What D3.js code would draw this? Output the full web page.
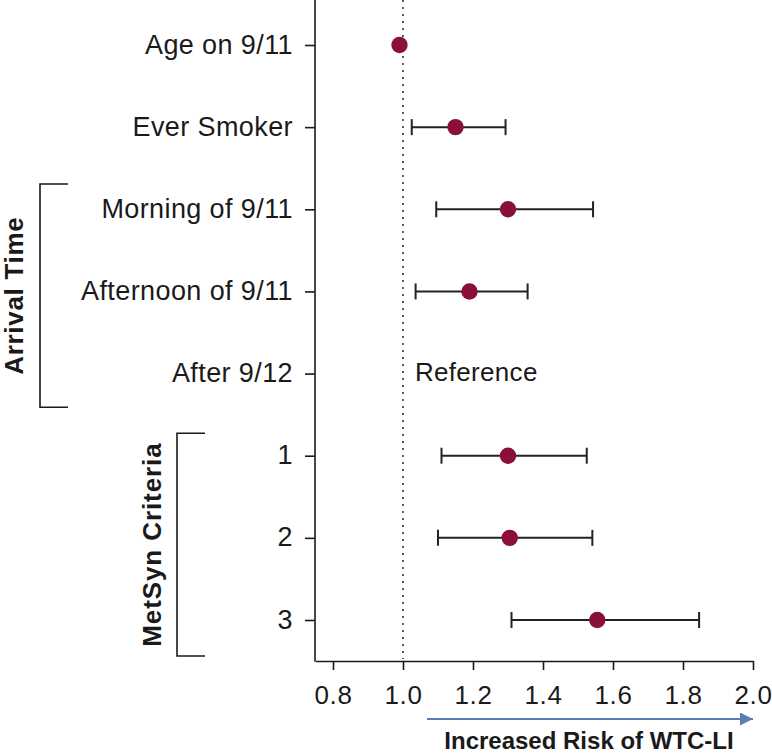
<!DOCTYPE html>
<html><head><meta charset="utf-8">
<script src="https://cdn.jsdelivr.net/npm/d3@7/dist/d3.min.js"></script>
<style>body{margin:0;background:#fff}svg{display:block}text{font-family:"Liberation Sans",Arial,sans-serif;fill:#1a1a1a}</style>
</head><body>
<svg id="c" width="772" height="755"></svg>
<script>
const categories = ["Age on 9/11","Ever Smoker","Morning of 9/11","Afternoon of 9/11","After 9/12","1","2","3"];
const estimates = [0.99, 1.15, 1.30, 1.19, null, 1.30, 1.305, 1.555];
const lower = [null, 1.025, 1.095, 1.036, null, 1.11, 1.10, 1.31];
const upper = [null, 1.293, 1.543, 1.356, null, 1.525, 1.541, 1.846];
const xTicks = [0.8, 1.0, 1.2, 1.4, 1.6, 1.8, 2.0];
const referenceLabel = "Reference";
const groups = [{label:"Arrival Time", from:"Morning of 9/11", to:"After 9/12"},
                {label:"MetSyn Criteria", from:"1", to:"3"}];
const axisTitle = "Increased Risk of WTC-LI";

const svg = d3.select("#c");
const x = d3.scaleLinear().domain([0.75, 2.0]).range([315.5, 753]);
const y = d3.scalePoint().domain(categories).range([45, 620]);
const axisY = 661, axisX = 315;

// dotted reference line
svg.append("line").attr("x1", x(1)).attr("x2", x(1)).attr("y1", 0).attr("y2", axisY - 2)
  .attr("stroke", "#333").attr("stroke-width", 1.6).attr("stroke-dasharray", "2,5");

// x axis
const gx = svg.append("g").attr("transform", `translate(0,${axisY})`)
  .call(d3.axisBottom(x).tickValues(xTicks).tickFormat(d3.format(".1f")).tickSize(9).tickSizeOuter(0).tickPadding(16));
gx.select(".domain").attr("stroke", "#1a1a1a").attr("stroke-width", 1.6);
gx.selectAll(".tick line").attr("stroke", "#1a1a1a").attr("stroke-width", 1.6);
gx.selectAll(".tick text").attr("font-size", 26).attr("letter-spacing", "0.6px")
  .style("font-family", '"Liberation Sans",Arial,sans-serif').attr("fill", "#1a1a1a");

// y axis
const gy = svg.append("g").attr("transform", `translate(${axisX},0)`)
  .call(d3.axisLeft(y).tickSize(10).tickPadding(12));
gy.select(".domain").remove();
gy.selectAll(".tick line").attr("stroke", "#1a1a1a").attr("stroke-width", 1.6);
gy.selectAll(".tick text").attr("font-size", 27).attr("letter-spacing", "0.4px").attr("dy", "0.3em")
  .style("font-family", '"Liberation Sans",Arial,sans-serif').attr("fill", "#1a1a1a");
svg.append("line").attr("x1", axisX).attr("x2", axisX).attr("y1", 0).attr("y2", axisY + 0.8)
  .attr("stroke", "#1a1a1a").attr("stroke-width", 1.6);

// error bars
const data = categories.map((c, i) => ({c, est: estimates[i], lo: lower[i], hi: upper[i]}));
const ci = data.filter(d => d.lo != null);
const eb = svg.append("g").attr("stroke", "#222").attr("stroke-width", 2);
eb.selectAll(".h").data(ci).join("line")
  .attr("x1", d => x(d.lo)).attr("x2", d => x(d.hi)).attr("y1", d => y(d.c)).attr("y2", d => y(d.c));
eb.selectAll(".l").data(ci).join("line")
  .attr("x1", d => x(d.lo)).attr("x2", d => x(d.lo)).attr("y1", d => y(d.c) - 8).attr("y2", d => y(d.c) + 8);
eb.selectAll(".r").data(ci).join("line")
  .attr("x1", d => x(d.hi)).attr("x2", d => x(d.hi)).attr("y1", d => y(d.c) - 8).attr("y2", d => y(d.c) + 8);

// points
svg.append("g").selectAll("circle").data(data.filter(d => d.est != null)).join("circle")
  .attr("cx", d => x(d.est)).attr("cy", d => y(d.c)).attr("r", 8.2).attr("fill", "#8a0f3b");

// reference text
svg.append("text").attr("x", 415).attr("y", y("After 9/12")).attr("dy", "0.3em")
  .attr("font-size", 26).attr("letter-spacing", "0.3px").text(referenceLabel);

// group brackets
const bracketX = [40, 177], labelX = [23, 161], labelSize = 26;
const bracketPad = [[25.3, 33.7], [22.5, 36]];
const labelSpacing = ["0.7px", "0.9px"];
groups.forEach((g, i) => {
  const y0 = y(g.from) - bracketPad[i][0], y1 = y(g.to) + bracketPad[i][1];
  const bx = bracketX[i];
  svg.append("path").attr("d", `M${bx + 28},${y0}H${bx}V${y1}H${bx + 28}`)
    .attr("fill", "none").attr("stroke", "#1a1a1a").attr("stroke-width", 1.6);
  svg.append("text").attr("transform", `translate(${labelX[i]},${(y0 + y1) / 2}) rotate(-90)`)
    .attr("text-anchor", "middle").attr("font-weight", "bold").attr("font-size", labelSize)
    .attr("letter-spacing", labelSpacing[i]).text(g.label);
});

// arrow
svg.append("defs").append("marker").attr("id", "ah").attr("viewBox", "0 0 10 10")
  .attr("refX", 10).attr("refY", 5).attr("markerWidth", 18).attr("markerHeight", 13)
  .attr("markerUnits", "userSpaceOnUse").attr("orient", "auto")
  .append("path").attr("d", "M0,0L10,5L0,10Z").attr("fill", "#5b7db3");
svg.append("line").attr("x1", 427).attr("x2", 753).attr("y1", 719).attr("y2", 719)
  .attr("stroke", "#5b7db3").attr("stroke-width", 2).attr("marker-end", "url(#ah)");
svg.append("text").attr("x", 589).attr("y", 749).attr("text-anchor", "middle")
  .attr("font-weight", "bold").attr("font-size", 24).text(axisTitle);
</script>
</body></html>
